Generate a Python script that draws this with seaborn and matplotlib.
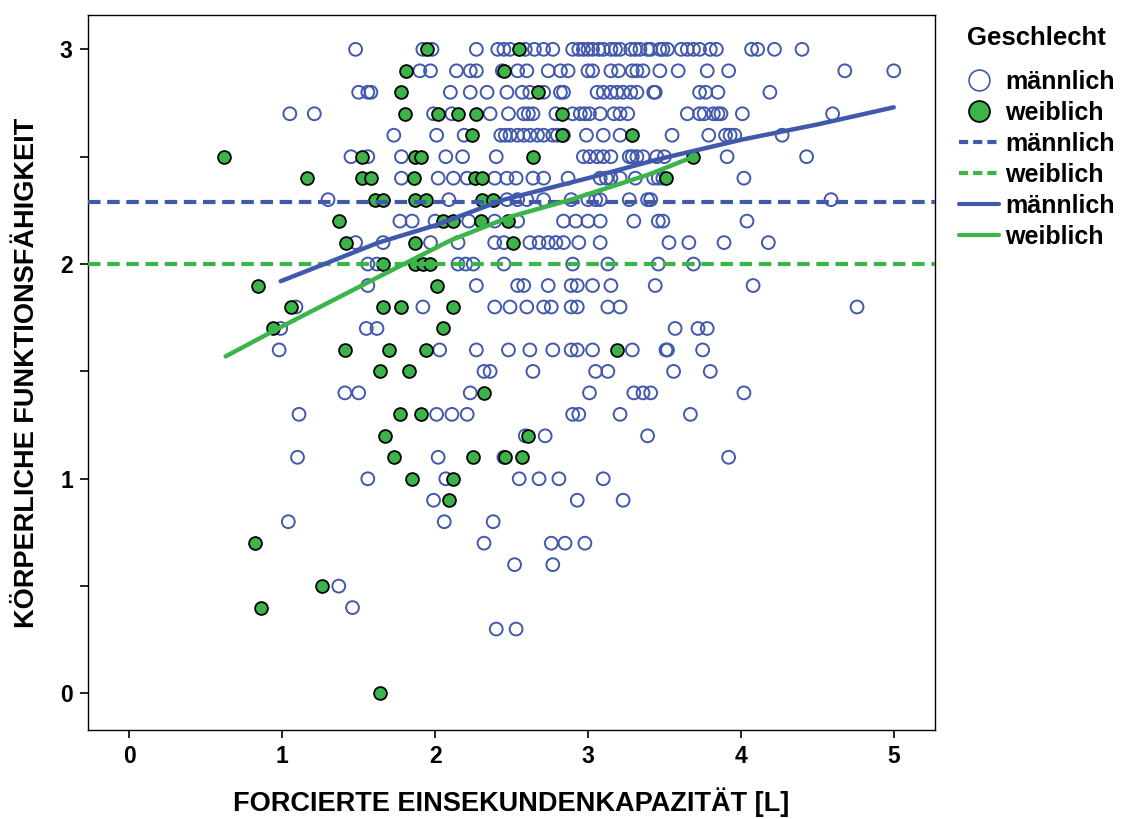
import numpy as np
import pandas as pd
import matplotlib
matplotlib.use("Agg")
import matplotlib.pyplot as plt
from matplotlib.lines import Line2D
import seaborn as sns

# FEV1 values [L] for each level of physical functioning score
male_points = {
    3.0: [1.48, 1.92, 1.98, 2.27, 2.41, 2.45, 2.49, 2.59, 2.65, 2.71, 2.77, 2.90, 2.94, 2.97,
          3.00, 3.03, 3.07, 3.10, 3.15, 3.18, 3.21, 3.28, 3.31, 3.34, 3.39, 3.41, 3.47, 3.49,
          3.52, 3.61, 3.65, 3.69, 3.73, 3.80, 3.84, 4.07, 4.11, 4.22, 4.40],
    2.9: [1.90, 1.97, 2.14, 2.23, 2.27, 2.44, 2.54, 2.60, 2.74, 2.82, 2.87, 3.00, 3.03, 3.15,
          3.20, 3.29, 3.32, 3.36, 3.47, 3.59, 3.78, 3.92, 4.68, 5.00],
    2.8: [1.50, 1.56, 1.58, 2.10, 2.23, 2.34, 2.47, 2.57, 2.62, 2.71, 2.82, 2.84, 3.06, 3.10,
          3.15, 3.19, 3.23, 3.28, 3.32, 3.43, 3.44, 3.73, 3.77, 3.85, 4.19],
    2.7: [1.05, 1.21, 1.99, 2.11, 2.36, 2.48, 2.58, 2.61, 2.64, 2.79, 2.90, 2.95, 2.98, 3.01,
          3.08, 3.17, 3.21, 3.26, 3.65, 3.73, 3.76, 3.82, 3.85, 3.87, 4.01, 4.60],
    2.6: [1.73, 2.01, 2.19, 2.43, 2.46, 2.49, 2.54, 2.58, 2.62, 2.67, 2.71, 2.77, 2.80, 2.84,
          2.99, 3.10, 3.21, 3.55, 3.79, 3.90, 3.93, 3.96, 4.27],
    2.5: [1.45, 1.56, 1.78, 2.07, 2.18, 2.40, 2.97, 3.01, 3.06, 3.10, 3.15, 3.27, 3.29, 3.32,
          3.36, 3.45, 3.50, 3.91, 4.43],
    2.4: [1.78, 2.02, 2.12, 2.21, 2.39, 2.47, 2.53, 2.64, 2.71, 2.87, 3.08, 3.12, 3.15, 3.21,
          3.31, 3.43, 3.46, 3.49, 4.02],
    2.3: [1.30, 2.09, 2.47, 2.54, 2.60, 2.71, 2.89, 3.00, 3.05, 3.08, 3.27, 3.39, 3.41, 4.59],
    2.2: [1.77, 1.85, 2.00, 2.22, 2.39, 2.54, 2.84, 2.92, 3.00, 3.08, 3.30, 3.46, 3.49, 4.04],
    2.1: [1.48, 1.66, 1.97, 2.15, 2.39, 2.45, 2.62, 2.68, 2.74, 2.79, 2.84, 2.94, 3.08, 3.53,
          3.66, 3.89, 4.18],
    2.0: [1.56, 1.62, 2.15, 2.20, 2.25, 2.45, 2.90, 3.13, 3.46, 3.69],
    1.9: [1.56, 2.27, 2.54, 2.58, 2.74, 2.89, 2.93, 3.03, 3.15, 3.44, 4.08],
    1.8: [1.09, 1.92, 2.39, 2.49, 2.60, 2.71, 2.76, 2.89, 2.93, 3.13, 3.21, 4.76],
    1.7: [0.99, 1.55, 1.62, 3.57, 3.72, 3.78],
    1.6: [0.98, 2.03, 2.27, 2.48, 2.62, 2.77, 2.89, 2.93, 3.03, 3.29, 3.51, 3.52, 3.75],
    1.5: [2.32, 2.36, 2.64, 3.05, 3.13, 3.56, 3.80],
    1.4: [1.41, 1.50, 2.23, 3.01, 3.30, 3.36, 3.41, 4.02],
    1.3: [1.11, 2.01, 2.11, 2.21, 2.90, 2.94, 3.21, 3.67],
    1.2: [2.59, 2.72, 3.39],
    1.1: [1.10, 2.02, 2.45, 3.92],
    1.0: [1.56, 2.07, 2.55, 2.68, 2.81, 3.10],
    0.9: [1.99, 2.93, 3.23],
    0.8: [1.04, 2.06, 2.38],
    0.7: [2.32, 2.76, 2.85, 2.98],
    0.6: [2.52, 2.77],
    0.5: [1.37],
    0.4: [1.46],
    0.3: [2.40, 2.53],
}
female_points = {
    3.0: [1.95, 2.55],
    2.9: [1.81, 2.45],
    2.8: [1.78, 2.67],
    2.7: [1.80, 2.02, 2.15, 2.27, 2.83],
    2.6: [2.24, 2.83, 3.29],
    2.5: [0.62, 1.52, 1.87, 1.91, 2.64, 3.69],
    2.4: [1.16, 1.52, 1.58, 1.86, 2.26, 2.31, 3.51],
    2.3: [1.61, 1.66, 1.87, 1.94, 2.31, 2.38],
    2.2: [1.37, 2.05, 2.12, 2.30, 2.48],
    2.1: [1.42, 1.87, 2.51],
    2.0: [1.66, 1.87, 1.92, 1.97],
    1.9: [0.84, 2.01],
    1.8: [1.06, 1.66, 1.78, 2.12],
    1.7: [0.94, 2.05],
    1.6: [1.41, 1.70, 1.94, 3.19],
    1.5: [1.64, 1.83],
    1.4: [2.32],
    1.3: [1.77, 1.91],
    1.2: [1.67, 2.61],
    1.1: [1.73, 2.25, 2.46, 2.57],
    1.0: [1.85, 2.12],
    0.9: [2.09],
    0.7: [0.82],
    0.5: [1.26],
    0.4: [0.86],
    0.0: [1.64],
}

# Group means (horizontal reference lines)
male_mean = 2.29
female_mean = 2.00

# Loess fit curves
male_fit_x = [0.99, 1.24, 1.63, 2.00, 2.45, 3.00, 3.47, 4.01, 4.50, 5.00]
male_fit_y = [1.92, 1.99, 2.10, 2.18, 2.30, 2.40, 2.49, 2.58, 2.65, 2.73]
female_fit_x = [0.63, 1.00, 1.63, 2.10, 2.49, 2.89, 3.41, 3.69]
female_fit_y = [1.57, 1.71, 1.94, 2.11, 2.22, 2.30, 2.42, 2.50]

BLUE = "#4159ad"
GREEN = "#3bb54a"


def to_frame(points, label):
    rows = [(x, y) for y, xs in points.items() for x in xs]
    df = pd.DataFrame(rows, columns=["fek", "kf"])
    df["Geschlecht"] = label
    return df


males = to_frame(male_points, "männlich")
females = to_frame(female_points, "weiblich")

sns.set_theme(style="white")
plt.rcParams["font.family"] = ["Liberation Sans", "DejaVu Sans"]
plt.rcParams["font.weight"] = "bold"
plt.rcParams.update({"text.color": "black", "axes.labelcolor": "black",
                     "xtick.color": "black", "ytick.color": "black"})

fig = plt.figure(figsize=(11.23, 8.19), dpi=100)
ax = fig.add_axes([0.0784, 0.1087, 0.7542, 0.873])

sns.scatterplot(data=males, x="fek", y="kf", ax=ax, marker="o", s=85,
                facecolors="none", edgecolor=BLUE, linewidth=1.4, zorder=3, legend=False)
sns.scatterplot(data=females, x="fek", y="kf", ax=ax, marker="o", s=85,
                color=GREEN, edgecolor="black", linewidth=1.3, zorder=4, legend=False)

ax.axhline(male_mean, color=BLUE, lw=3, ls=(0, (3, 1.6)), zorder=5)
ax.axhline(female_mean, color=GREEN, lw=3, ls=(0, (3, 1.6)), zorder=5)

sns.lineplot(x=male_fit_x, y=male_fit_y, ax=ax, color=BLUE, lw=3.2, zorder=6,
             estimator=None, sort=False)
sns.lineplot(x=female_fit_x, y=female_fit_y, ax=ax, color=GREEN, lw=3.2, zorder=6,
             estimator=None, sort=False)

ax.set_xlim(-0.27, 5.27)
ax.set_ylim(-0.17, 3.16)
ax.set_xticks([0, 1, 2, 3, 4, 5])
ax.set_yticks([0, 1, 2, 3])
ax.set_yticks([0.5, 1.5, 2.5], minor=True)
ax.tick_params(axis="both", which="both", direction="out", length=6, width=1.2,
               color="black", labelcolor="black", labelsize=16.5, pad=5)
ax.tick_params(axis="both", which="major", bottom=True, left=True)
ax.tick_params(axis="y", which="minor", left=True, length=6)
for lab in ax.get_xticklabels() + ax.get_yticklabels():
    lab.set_fontweight("bold")
for sp in ax.spines.values():
    sp.set_color("black")
    sp.set_linewidth(1.0)

ax.set_xlabel("FORCIERTE EINSEKUNDENKAPAZITÄT [L]", fontsize=19.5, fontweight="bold",
              labelpad=14, color="black")
ax.set_ylabel("KÖRPERLICHE FUNKTIONSFÄHIGKEIT", fontsize=19.5, fontweight="bold",
              labelpad=14, color="black")

handles = [
    Line2D([], [], ls="none", marker="o", markersize=15, markerfacecolor="white",
           markeredgecolor=BLUE, markeredgewidth=1.2),
    Line2D([], [], ls="none", marker="o", markersize=15, markerfacecolor=GREEN,
           markeredgecolor="black", markeredgewidth=1.3),
    Line2D([], [], color=BLUE, lw=3, ls=(0, (2.2, 1.2))),
    Line2D([], [], color=GREEN, lw=3, ls=(0, (2.2, 1.2))),
    Line2D([], [], color=BLUE, lw=3),
    Line2D([], [], color=GREEN, lw=3),
]
labels = ["männlich", "weiblich", "männlich", "weiblich", "männlich", "weiblich"]
leg = fig.legend(handles, labels, loc="upper left",
                 bbox_to_anchor=(0.834, 0.942), frameon=False, fontsize=18,
                 handlelength=1.6, handletextpad=0.25, labelspacing=0.28)
for t in leg.get_texts():
    t.set_fontweight("bold")
fig.text(0.9225, 1 - 38 / 819, "Geschlecht", ha="center", va="center",
         fontsize=18.5, fontweight="bold", color="black")

fig.savefig("out.png", dpi=100, facecolor="white")
